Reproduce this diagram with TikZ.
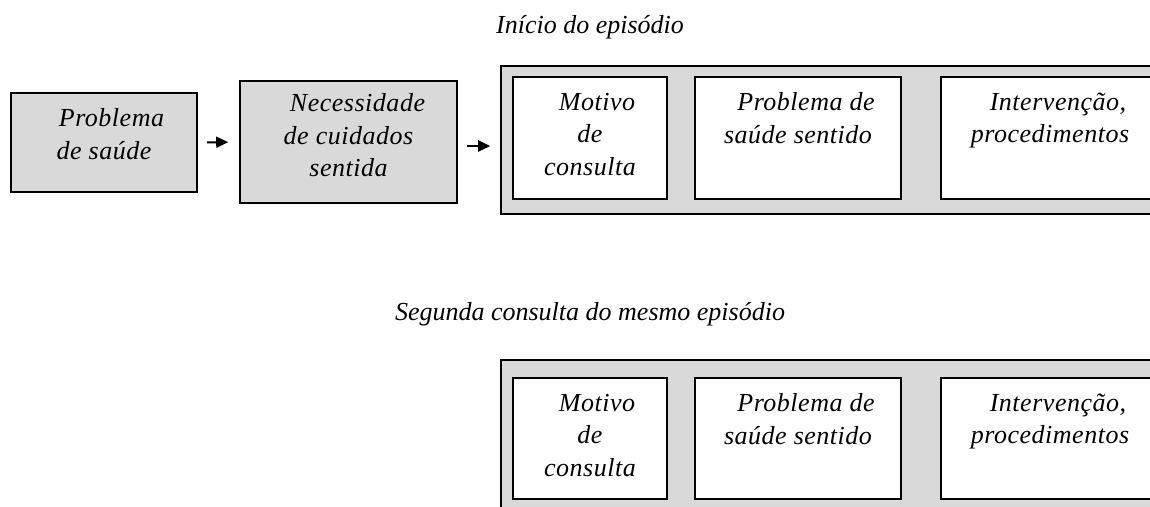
\documentclass[tikz,border=0pt]{standalone}
\usepackage{fontspec}
\setmainfont{Liberation Serif}
\newfontfamily\boxfont{Liberation Serif}[LetterSpace=2.0]
\usetikzlibrary{arrows.meta}
\definecolor{panelgrey}{RGB}{217,217,217}

\begin{document}
\begin{tikzpicture}[x=1pt,y=-1pt,
    greybox/.style={draw,line width=1.6pt,fill=panelgrey,inner sep=0pt},
    whitebox/.style={draw,line width=1.6pt,fill=white,inner sep=0pt},
    boxtext/.style={font=\boxfont\itshape\fontsize{26}{32.5}\selectfont,align=center,inner sep=0pt,anchor=north},
    titletext/.style={font=\itshape\fontsize{26}{32.5}\selectfont,inner sep=0pt,anchor=base},
    flow/.style={line width=2pt,-{Triangle[length=12pt,width=11pt]}}]
  \useasboundingbox (0,0) rectangle (1150,506);
  \clip (0,0) rectangle (1150,506);

  \node[titletext] (titlestart) at (590,33) {Início do episódio};
  \node[titletext] (titlesecond) at (590,320) {Segunda consulta do mesmo episódio};

  \node[greybox,minimum width=186pt,minimum height=99pt] (prob) at (104,142.5) {};
  \node[greybox,minimum width=217pt,minimum height=122pt] (nec) at (348.5,142) {};
  \node[greybox,minimum width=669pt,minimum height=148pt] (epone) at (835.5,140) {};
  \node[whitebox,minimum width=154pt,minimum height=122pt] (motone) at (590,138) {};
  \node[whitebox,minimum width=206pt,minimum height=122pt] (probone) at (798,138) {};
  \node[whitebox,minimum width=218pt,minimum height=122pt] (intone) at (1050,138) {};

  \node[greybox,minimum width=669pt,minimum height=160pt] (eptwo) at (835.5,440) {};
  \node[whitebox,minimum width=154pt,minimum height=121pt] (mottwo) at (590,438.5) {};
  \node[whitebox,minimum width=206pt,minimum height=121pt] (probtwo) at (798,438.5) {};
  \node[whitebox,minimum width=218pt,minimum height=121pt] (inttwo) at (1050,438.5) {};

  \node[boxtext] (probtxt) at ([yshift=-16.5pt]prob.north) {\hspace*{15pt}Problema\\de saúde};
  \node[boxtext] (nectxt) at ([yshift=-13.5pt]nec.north) {\hspace*{18pt}Necessidade\\de cuidados\\sentida};
  \node[boxtext] (motonetxt) at ([yshift=-16.5pt]motone.north) {\hspace*{14pt}Motivo\\de\\consulta};
  \node[boxtext] (probonetxt) at ([yshift=-16.5pt]probone.north) {\hspace*{16pt}Problema de\\saúde sentido};
  \node[boxtext] (intonetxt) at ([yshift=-16.5pt]intone.north) {\hspace*{16pt}Intervenção,\\procedimentos};
  \node[boxtext] (mottwotxt) at ([yshift=-16.5pt]mottwo.north) {\hspace*{14pt}Motivo\\de\\consulta};
  \node[boxtext] (probtwotxt) at ([yshift=-16.5pt]probtwo.north) {\hspace*{16pt}Problema de\\saúde sentido};
  \node[boxtext] (inttwotxt) at ([yshift=-16.5pt]inttwo.north) {\hspace*{16pt}Intervenção,\\procedimentos};

  \draw[flow,shorten <=9pt,shorten >=11pt] (prob.east) -- (nec.west);
  \draw[flow,shorten <=9pt,shorten >=10pt] ([yshift=-4pt]nec.east) -- ([yshift=-6pt]epone.west);
\end{tikzpicture}
\end{document}
